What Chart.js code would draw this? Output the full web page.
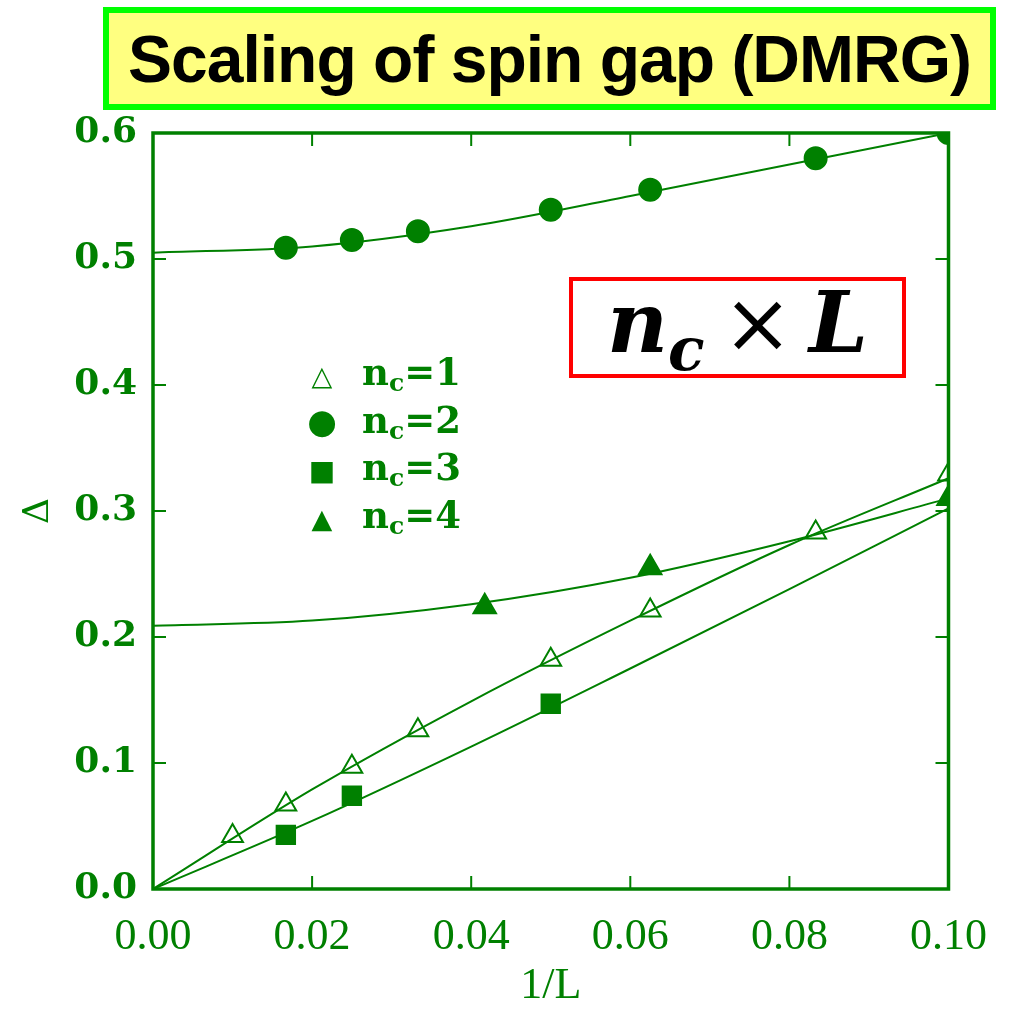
<!DOCTYPE html>
<html>
<head>
<meta charset="utf-8">
<script src="https://cdn.jsdelivr.net/npm/chart.js@4"></script>
<style>
  body { margin: 0; background: #fff; }
  #wrap { position: relative; width: 1009px; height: 1011px; }
  #title {
    position: absolute; left: 103px; top: 7px; width: 881px; height: 91px;
    border: 6px solid #00ff00; background: #ffff80;
    font: bold 66px "Liberation Sans", Arial, sans-serif; color: #000;
    letter-spacing: -1px; text-align: center; line-height: 93px; white-space: nowrap;
  }
  #nbox {
    position: absolute; left: 569px; top: 277px; width: 329px; height: 93px;
    border: 4px solid #ff0000; background: #fff;
    font: italic bold 84px "DejaVu Serif", serif; color: #000;
    text-align: center; line-height: 84px; white-space: nowrap;
  }
  #nbox sub { font-size: 60px; vertical-align: -18px; line-height: 0; }
  #nbox .x { font-style: normal; font-weight: normal; margin: 0 16px 0 18px; }
  #legend {
    position: absolute; left: 300px; top: 349px; color: #008000;
    font: bold 37px "DejaVu Serif", serif;
  }
  #legend div { height: 47.5px; line-height: 47px; white-space: nowrap; }
  #legend .m { display: inline-block; width: 44px; margin-right: 18px; text-align: center; font-family: "DejaVu Sans", sans-serif; font-weight: normal; }
  #legend sub { font-size: 25px; vertical-align: -6px; line-height: 0; }
</style>
</head>
<body>
<div id="wrap">
  <canvas id="chart" width="1009" height="1011"></canvas>
  <div id="title">Scaling of spin gap (DMRG)</div>
  <div id="nbox">n<sub>c</sub><span class="x">×</span>L</div>
  <div id="legend">
    <div><span class="m" style="font-size:27px">△</span>n<sub>c</sub>=1</div>
    <div><span class="m" style="font-size:34px">●</span>n<sub>c</sub>=2</div>
    <div><span class="m" style="font-size:28px">■</span>n<sub>c</sub>=3</div>
    <div><span class="m" style="font-size:27px">▲</span>n<sub>c</sub>=4</div>
  </div>
</div>
<script>
// DMRG data, 1/L vs spin gap
const invL1 = [0.01, 0.0167, 0.025, 0.0333, 0.05, 0.0625, 0.0833, 0.1];
const gap1  = [0.042, 0.067, 0.097, 0.126, 0.182, 0.221, 0.283, 0.329];
const invL2 = [0.0167, 0.025, 0.0333, 0.05, 0.0625, 0.0833, 0.1];
const gap2  = [0.509, 0.515, 0.522, 0.539, 0.555, 0.580, 0.600];
const invL3 = [0.0167, 0.025, 0.05];
const gap3  = [0.043, 0.074, 0.147];
const invL4 = [0.0417, 0.0625, 0.1];
const gap4  = [0.224, 0.255, 0.310];

// fitted curves
const fitX = [0, 0.02, 0.04, 0.06, 0.08, 0.10];
const fit1 = [0, 0.079, 0.149, 0.213, 0.273, 0.326];
const fit2 = [0.505, 0.510, 0.526, 0.550, 0.575, 0.600];
const fit3 = [0, 0.054, 0.113, 0.175, 0.238, 0.302];
const fit4 = [0.209, 0.213, 0.226, 0.247, 0.276, 0.310];

const green = '#008000';
const pts = (xs, ys) => xs.map((x, i) => ({x, y: ys[i]}));

function fitSet(ys) {
  return { data: pts(fitX, ys), showLine: true, borderColor: green, borderWidth: 2,
           pointRadius: 0, cubicInterpolationMode: 'monotone', clip: 0 };
}
function markSet(xs, ys, style, r, filled) {
  return { data: pts(xs, ys), showLine: false, pointStyle: style, pointRadius: r,
           borderColor: green, borderWidth: 2,
           backgroundColor: filled ? green : 'rgba(255,255,255,0)', clip: 0 };
}

// frame + inward tick marks on all four sides
const frame = {
  id: 'frame',
  afterDatasetsDraw(chart) {
    const {ctx, chartArea: a, scales: {x, y}} = chart;
    ctx.save();
    ctx.strokeStyle = green;
    ctx.lineWidth = 2;
    ctx.beginPath();
    x.ticks.forEach(t => {
      const px = x.getPixelForValue(t.value);
      ctx.moveTo(px, a.bottom); ctx.lineTo(px, a.bottom - 13);
      ctx.moveTo(px, a.top); ctx.lineTo(px, a.top + 13);
    });
    y.ticks.forEach(t => {
      const py = y.getPixelForValue(t.value);
      ctx.moveTo(a.left, py); ctx.lineTo(a.left + 13, py);
      ctx.moveTo(a.right, py); ctx.lineTo(a.right - 13, py);
    });
    ctx.stroke();
    ctx.lineWidth = 3.5;
    ctx.strokeRect(a.left, a.top, a.width, a.height);
    ctx.restore();
  }
};

new Chart(document.getElementById('chart'), {
  type: 'scatter',
  data: {
    datasets: [
      fitSet(fit1), fitSet(fit2), fitSet(fit3), fitSet(fit4),
      markSet(invL1, gap1, 'triangle', 12, false),
      markSet(invL2, gap2, 'circle', 11, true),
      markSet(invL3, gap3, 'rect', 13, true),
      markSet(invL4, gap4, 'triangle', 13, true)
    ]
  },
  options: {
    responsive: false,
    animation: false,
    layout: { padding: { top: 133, right: 59, left: 0, bottom: 0 } },
    plugins: { legend: { display: false }, tooltip: { enabled: false } },
    scales: {
      x: {
        type: 'linear', min: 0, max: 0.1,
        afterFit: s => { s.height = 122; },
        grid: { display: false, drawTicks: false },
        border: { display: false },
        ticks: { stepSize: 0.02, color: green, padding: 22,
                 font: { family: 'Liberation Serif', size: 44 },
                 callback: v => v.toFixed(2) },
        title: { display: true, text: '1/L', color: green,
                 font: { family: 'Liberation Serif', size: 44, lineHeight: 0.95 } }
      },
      y: {
        type: 'linear', min: 0, max: 0.6,
        afterFit: s => { s.width = 153; },
        grid: { display: false, drawTicks: false },
        border: { display: false },
        ticks: { stepSize: 0.1, color: green, padding: 16,
                 font: { family: 'DejaVu Serif', size: 36, weight: 'bold' },
                 callback: v => v.toFixed(1) },
        title: { display: true, text: 'Δ', color: green,
                 font: { family: 'DejaVu Serif', size: 36, lineHeight: 1.9 } }
      }
    }
  },
  plugins: [frame]
});
</script>
</body>
</html>
